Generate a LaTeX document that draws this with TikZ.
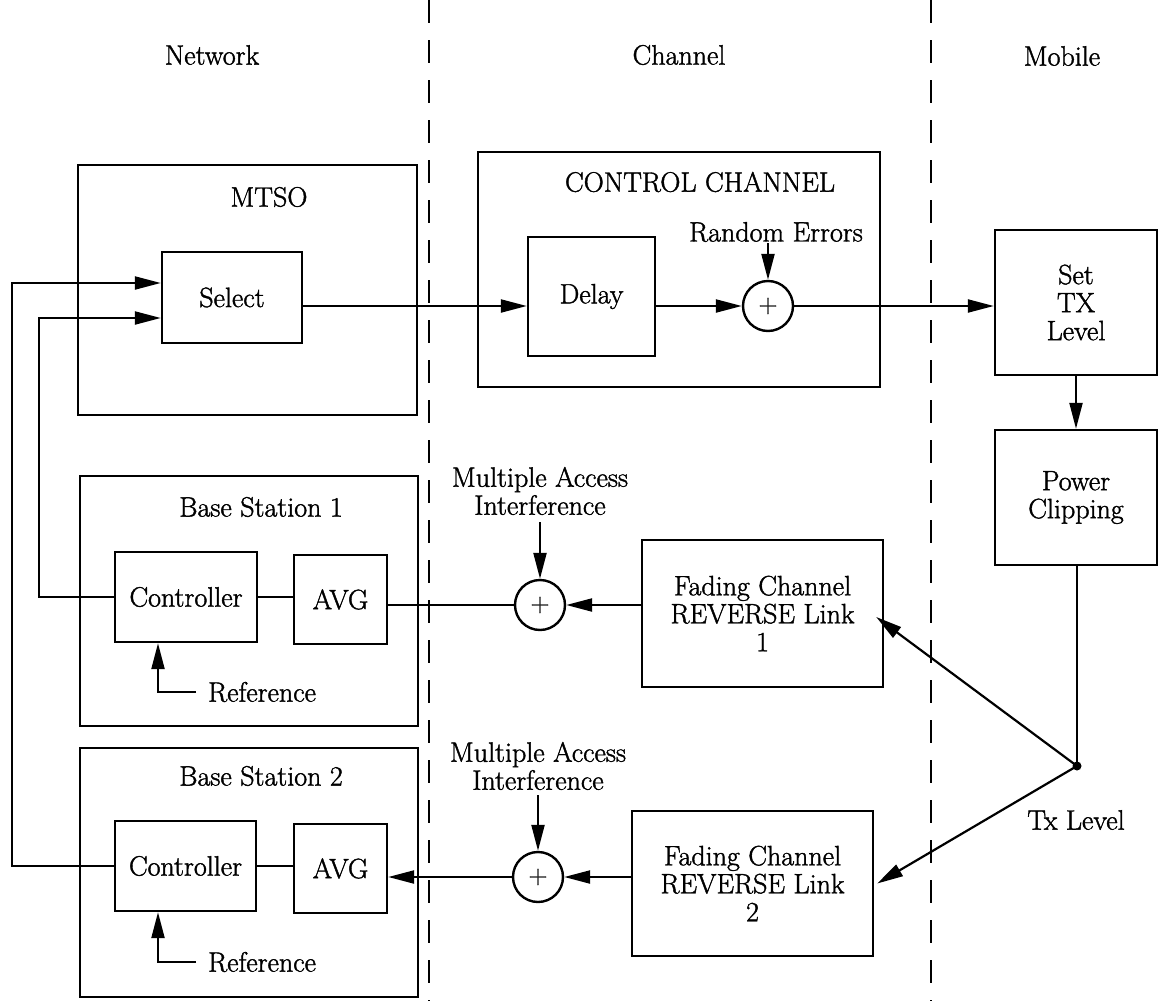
\documentclass[tikz,border=0pt]{standalone}
\usepackage{fontspec}
\setmainfont{Latin Modern Roman}[FakeBold=1.4]
\usetikzlibrary{arrows.meta}
\begin{document}
\begin{tikzpicture}[x=1pt,y=-1pt,
  every node/.style={font=\fontsize{28}{28}\selectfont},
  box/.style={draw, line width=2.4pt, inner sep=0pt, align=center},
  sumnode/.style={draw, circle, line width=2.4pt, minimum size=50pt, inner sep=0pt, font=\fontsize{26}{26}\selectfont},
  lbl/.style={inner sep=0pt, align=center},
  arr/.style={line width=2.2pt, -{Triangle[length=26pt,width=13pt]}},
  ln/.style={line width=2.2pt},
  thin/.style={line width=1.8pt},
  divider/.style={line width=2.8pt, dash pattern=on 23pt off 17pt}]
\useasboundingbox (0,0) rectangle (1160,1001);
% dividers
\draw[divider] (429,0) -- (429,1001);
\draw[divider] (931,0) -- (931,1001);
% column titles
\node[lbl] (tnet) at (212,55) {Network};
\node[lbl] (tch) at (679,55) {Channel};
\node[lbl] (tmob) at (1062,56) {Mobile};
% MTSO
\node[box, minimum width=339pt, minimum height=250pt] (MTSO) at (247.5,290) {};
\node[lbl] (mtsol) at (269,197) {MTSO};
\node[box, minimum width=140pt, minimum height=91pt] (Select) at (232,297.5) {Select};
% Control channel
\node[box, minimum width=402pt, minimum height=235pt] (CC) at (679,269.5) {};
\node[lbl] (ccl) at (700,182) {CONTROL CHANNEL};
\node[box, minimum width=127pt, minimum height=119pt] (Delay) at (591.5,296.5) {Delay};
\node[sumnode] (S0) at (768,306) {+};
\node[lbl] (re) at (776,232) {Random Errors};
% Mobile
\node[box, minimum width=162pt, minimum height=145pt] (SetTX) at (1076,302.5) {Set\\TX\\Level};
\node[box, minimum width=162pt, minimum height=135pt] (Power) at (1076,497.5) {Power\\Clipping};
\fill (1077,766) circle (4.5pt) coordinate (dot);
\node[lbl] (txl) at (1076,820) {Tx Level};
% Base station 1
\node[box, minimum width=338pt, minimum height=250pt] (BS1) at (249,601) {};
\node[lbl] (bs1l) at (261,507) {Base Station 1};
\node[box, minimum width=142pt, minimum height=90pt] (C1) at (186,597) {Controller};
\node[box, minimum width=93pt, minimum height=89pt] (A1) at (340.5,599.5) {AVG};
\node[lbl, anchor=west] (R1) at (208,692) {Reference};
\node[sumnode] (S1) at (540,605) {+};
\node[lbl] (mai1) at (540,491) {Multiple Access\\Interference};
\node[box, minimum width=241pt, minimum height=147pt] (F1) at (762.5,613.5) {Fading Channel\\REVERSE Link\\1};
% Base station 2
\node[box, minimum width=338pt, minimum height=249pt] (BS2) at (249,872.5) {};
\node[lbl] (bs2l) at (261,776) {Base Station 2};
\node[box, minimum width=141pt, minimum height=90pt] (C2) at (185.5,866) {Controller};
\node[box, minimum width=93pt, minimum height=89pt] (A2) at (340.5,868.5) {AVG};
\node[lbl, anchor=west] (R2) at (208,962) {Reference};
\node[sumnode] (S2) at (538,877) {+};
\node[lbl] (mai2) at (538,766) {Multiple Access\\Interference};
\node[box, minimum width=241pt, minimum height=145pt] (F2) at (752.5,883.5) {Fading Channel\\REVERSE Link\\2};
% forward path
\draw[thin] (Select.east |- 0,306) -- (429,306);
\draw[arr] (429,306) -- (Delay.west |- 0,306);
\draw[arr] (Delay.east |- S0) -- (S0.west);
\draw[arr] (S0 |- 0,243) -- (S0.north);
\draw[thin] (S0.east) -- (931,306);
\draw[arr] (931,306) -- (SetTX.west |- S0);
\draw[arr] (SetTX.south) -- (Power.north);
\draw[ln] (Power.south -| dot) -- (dot);
\draw[arr] (dot) -- ([xshift=-8pt,yshift=-3.5pt]F1.east);
\draw[arr] (dot) -- ([xshift=3pt]F2.east);
% reverse link 1
\draw[arr] (F1.west |- S1) -- (S1.east);
\draw[ln] (S1.west) -- (A1.east |- S1);
\draw[arr] (S1 |- 0,522) -- (S1.north);
\draw[ln] (C1.east) -- (A1.west |- C1.east);
\draw[arr] ([xshift=-12pt]R1.west) -| (C1.south -| 158,0);
\draw[arr] (C1.west) -- (39,597) -- (39,318) -- (Select.west |- 0,318);
% reverse link 2
\draw[arr] (F2.west |- S2) -- (S2.east);
\draw[arr] (S2.west) -- (A2.east |- S2);
\draw[arr] (S2 |- 0,795) -- (S2.north);
\draw[ln] (C2.east) -- (A2.west |- C2.east);
\draw[arr] ([xshift=-12pt]R2.west) -| (C2.south -| 158,0);
\draw[arr] (C2.west) -- (12,866) -- (12,283) -- (Select.west |- 0,283);
\end{tikzpicture}
\end{document}
